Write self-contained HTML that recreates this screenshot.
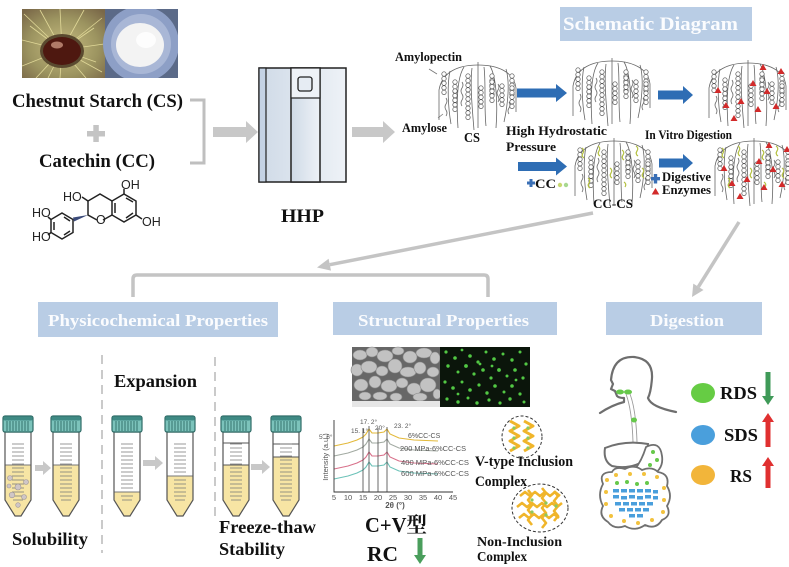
<!DOCTYPE html>
<html><head><meta charset="utf-8">
<style>
html,body{margin:0;padding:0;background:#fff;}
svg{display:block;}
.t{font-family:"Liberation Serif","Noto Serif CJK SC",serif;font-weight:bold;fill:#111;}
.h{font-family:"Liberation Serif",serif;font-weight:bold;fill:#fbfcfe;}
.s{font-family:"Liberation Sans",sans-serif;fill:#555;}
.c{font-family:"Liberation Sans",sans-serif;fill:#222;font-size:12.5px;}
</style></head><body>
<svg width="789" height="567" viewBox="0 0 789 567" xmlns="http://www.w3.org/2000/svg" xmlns:xlink="http://www.w3.org/1999/xlink">
<defs>
 <g id="h5" fill="#fff" stroke="#555" stroke-width="0.7">
  <circle cx="0" cy="0" r="2.2"/><circle cx="0" cy="4.6" r="2.2"/><circle cx="0" cy="9.2" r="2.2"/><circle cx="0" cy="13.8" r="2.2"/><circle cx="0" cy="18.4" r="2.2"/>
 </g>
 <g id="st">
  <g fill="none" stroke="#666" stroke-width="0.8">
   <path d="M42,0 L42,66"/>
   <path d="M42,3 C22,3 6,10 3,28 L3,58"/>
   <path d="M42,3 C62,3 78,10 80,26 L80,50"/>
   <path d="M28,5 C22,14 20,35 22,66"/>
   <path d="M54,4 C60,14 62,40 60,66"/>
   <path d="M14,9 C11,22 12,45 15,62"/>
   <path d="M70,7 C74,20 72,42 68,60"/>
   <path d="M36,6 C34,22 36,44 38,68"/>
   <path d="M48,5 C50,20 48,46 50,64"/>
   <path d="M26,20 q2,3 0,6 q-2,3 0,6 q2,3 0,6 q-2,3 0,6"/>
   <path d="M62,22 q2,3 0,6 q-2,3 0,6 q2,3 0,6"/>
   <path d="M10,36 q2,3 0,6 q-2,3 0,6 q2,3 0,6"/>
   <path d="M73,40 q2,3 0,6 q-2,3 0,6"/>
  </g>
  <use xlink:href="#h5" x="8" y="12"/>
  <use xlink:href="#h5" x="19" y="20"/><use xlink:href="#h5" x="19" y="29"/>
  <use xlink:href="#h5" x="32" y="14"/><use xlink:href="#h5" x="32" y="37"/>
  <use xlink:href="#h5" x="45" y="26"/>
  <use xlink:href="#h5" x="56" y="14"/><use xlink:href="#h5" x="56" y="20"/>
  <use xlink:href="#h5" x="66" y="24"/>
  <use xlink:href="#h5" x="76" y="14"/><use xlink:href="#h5" x="76" y="26"/>
 </g>
 <g id="tri" fill="#d22a2a">
  <path d="M12,27 l3.5,6 h-7z M20,42 l3.5,6 h-7z M35,38 l3.5,6 h-7z M47,20 l3.5,6 h-7z M52,46 l3.5,6 h-7z M61,28 l3.5,6 h-7z M70,43 l3.5,6 h-7z M57,4 l3.5,6 h-7z M28,55 l3.5,6 h-7z M75,8 l3.5,6 h-7z"/>
 </g>
 <g id="yg" fill="none" stroke="#b4c040" stroke-width="1.2">
  <path d="M10,10 q3,2 1,5 q-2,3 1,5"/><path d="M26,8 q3,2 1,5 q-2,3 1,5"/><path d="M50,12 q3,2 1,5 q-2,3 1,5"/><path d="M64,8 q3,2 1,5 q-2,3 1,5"/><path d="M38,30 q3,2 1,5 q-2,3 1,5"/><path d="M70,30 q3,2 1,5 q-2,3 1,5"/><path d="M16,40 q3,2 1,5 q-2,3 1,5"/><path d="M52,44 q3,2 1,5"/>
 </g>
 <g id="tcap">
  <rect x="0" y="0" width="30" height="16" rx="2" fill="#7cc3bb" stroke="#2e6b66" stroke-width="1.2"/>
  <rect x="0.5" y="0.5" width="29" height="4" rx="1.5" fill="#3f8a84"/>
  <path d="M4,5V15M7,5V15M10,5V15M13,5V15M16,5V15M19,5V15M22,5V15M25,5V15" stroke="#2e6b66" stroke-width="0.9"/>
 </g>
 <path id="tbody" d="M2,16 L28,16 L28,84 L18,100 L12,100 L2,84 Z"/>
 <path id="tgrad" d="M9,28h12M9,32h12M9,36h12M9,40h12M9,44h12M9,48h12M9,52h12M9,56h12M9,60h12M9,64h12M9,68h12M9,72h12M9,76h12M9,80h12M10,84h10"/>
 <path id="xrd" fill="none" stroke-width="1.1" d="M334,0 L348,-3 L357,-6 L363,-9 L366,-12 L369,-17 L372,-13 L378,-13 L384,-14 L387,-17 L390,-12 L399,-8 L414,-6 L438,-5"/>
 <linearGradient id="pan" x1="0" x2="1" y1="0" y2="0"><stop offset="0" stop-color="#cfdae7"/><stop offset="1" stop-color="#eef2f7"/></linearGradient>
 <radialGradient id="husk" cx="0.5" cy="0.55" r="0.7"><stop offset="0" stop-color="#c6bb80"/><stop offset="0.6" stop-color="#9c9460"/><stop offset="1" stop-color="#7a6848"/></radialGradient>
 <clipPath id="ph"><rect x="22" y="9" width="156" height="69"/></clipPath>
</defs>

<rect width="789" height="567" fill="#fff"/>

<!-- photo -->
<g clip-path="url(#ph)">
 <rect x="22" y="9" width="83" height="69" fill="url(#husk)"/>
 <g stroke="#e0d898" stroke-width="0.8">
  <path d="M62,50 L24,14 M62,50 L40,10 M62,50 L60,9 M62,50 L84,10 M62,50 L102,18 M62,50 L104,44 M62,50 L102,72 M62,50 L86,78 M62,50 L60,78 M62,50 L36,78 M62,50 L22,66 M62,50 L22,40 M62,50 L30,26 M62,50 L94,28 M62,50 L96,62 M62,50 L48,78"/>
 </g>
 <ellipse cx="62" cy="51" rx="22" ry="17" fill="#5a4a30"/>
 <ellipse cx="62" cy="51" rx="19" ry="14" fill="#4e1810"/>
 <ellipse cx="57" cy="45" rx="6" ry="3.5" fill="#b07a68"/>
 <rect x="105" y="9" width="73" height="69" fill="#5b6a88"/>
 <circle cx="141" cy="44" r="38" fill="#8d9fc6"/>
 <circle cx="141" cy="44" r="30" fill="#a9b7d6"/>
 <ellipse cx="140" cy="45" rx="24" ry="22" fill="#f3f3f3"/>
 <ellipse cx="146" cy="40" rx="10" ry="8" fill="#fdfdfd"/>
</g>

<!-- left texts -->
<text class="t" x="12" y="107" font-size="18.5" textLength="171" lengthAdjust="spacingAndGlyphs">Chestnut Starch (CS)</text>
<path d="M87,131h18v5.5h-18z M93.3,125h5.5v17h-5.5z" fill="#c4c4c4"/>
<text class="t" x="39" y="167" font-size="18.5" textLength="116" lengthAdjust="spacingAndGlyphs">Catechin (CC)</text>
<path d="M190,100 H204 V163 H190" fill="none" stroke="#bfbfbf" stroke-width="3"/>
<path d="M213,127 H246 V121 L258,132 L246,143 V137 H213 Z" fill="#c8c8c8"/>

<!-- catechin -->
<g fill="none" stroke="#222" stroke-width="1.5">
 <path d="M124,194 L136,201 L136,215 L124,222 L112,215 L112,201 Z"/>
 <path d="M126,198 L133,202 M133,213 L126,218 M115,203 L115,213"/>
 <path d="M112,215 L103,220 M97,220 L88,215 L88,201 L100,194 L112,201"/>
 <path d="M124,194 L124,189 M136,215 L142,219 M88,201 L82,197"/>
 <path d="M62,213 L73,219.5 L73,232.5 L62,239 L51,232.5 L51,219.5 Z"/>
 <path d="M64,217 L70,221 M70,231 L64,235 M54,222 L54,230"/>
 <path d="M51,219.5 L48,217 M51,232.5 L48,235"/>
</g>
<path d="M88,215 L73,217.5 L74,221.5 Z" fill="#3b4a7a"/>
<text class="c" x="121" y="189">OH</text>
<text class="c" x="142" y="226">OH</text>
<text class="c" x="63" y="201">HO</text>
<text class="c" x="96" y="224">O</text>
<text class="c" x="32" y="217">HO</text>
<text class="c" x="32" y="241">HO</text>

<!-- HHP machine -->
<rect x="259" y="68" width="87" height="114" fill="url(#pan)" stroke="#222" stroke-width="1.5"/>
<rect x="259" y="68" width="7" height="114" fill="#c4d2e4" stroke="#222" stroke-width="1.2"/>
<rect x="291" y="68" width="29" height="114" fill="url(#pan)" stroke="#222" stroke-width="1.5"/>
<rect x="291" y="68" width="29" height="30" fill="#eef2f7" stroke="#222" stroke-width="1.2"/>
<rect x="298" y="77" width="14" height="14" rx="2.5" fill="#e6ecf3" stroke="#222" stroke-width="1.3"/>
<text class="t" x="281" y="222" font-size="18.5" textLength="43" lengthAdjust="spacingAndGlyphs">HHP</text>
<path d="M352,127 H383 V121 L395,132 L383,143 V137 H352 Z" fill="#c8c8c8"/>

<!-- schematic -->
<rect x="560" y="7" width="192" height="34" fill="#b9cde5"/>
<text class="h" x="563" y="30" font-size="19" textLength="175" lengthAdjust="spacingAndGlyphs">Schematic Diagram</text>
<text class="t" x="395" y="61" font-size="12.5" textLength="67" lengthAdjust="spacingAndGlyphs">Amylopectin</text>
<path d="M429,69 L437,74 M438,118 L443,114" stroke="#777" stroke-width="0.8"/>
<text class="t" x="402" y="132" font-size="12.5" textLength="45" lengthAdjust="spacingAndGlyphs">Amylose</text>
<text class="t" x="464" y="142" font-size="13.5" textLength="16" lengthAdjust="spacingAndGlyphs">CS</text>
<use xlink:href="#st" x="436" y="62"/>
<use xlink:href="#st" x="570" y="58"/>
<use xlink:href="#st" x="706" y="60"/><use xlink:href="#tri" x="706" y="60"/>
<use xlink:href="#st" x="572" y="138"/><use xlink:href="#yg" x="572" y="138"/>
<use xlink:href="#st" x="712" y="138"/><use xlink:href="#yg" x="712" y="138"/><use xlink:href="#tri" x="712" y="138"/>
<g fill="#2e6db4">
 <path d="M517,88.5 H556 V84 L567,93 L556,102 V97.5 H517 Z"/>
 <path d="M658,90.5 H683 V86 L693,95 L683,104 V99.5 H658 Z"/>
 <path d="M518,162 H556 V157.5 L567,166.5 L556,175.5 V171 H518 Z"/>
 <path d="M659,158.5 H683 V154 L693,163 L683,172 V167.5 H659 Z"/>
</g>
<text class="t" x="506" y="135" font-size="13" textLength="101" lengthAdjust="spacingAndGlyphs">High Hydrostatic</text>
<text class="t" x="506" y="151" font-size="13" textLength="50" lengthAdjust="spacingAndGlyphs">Pressure</text>
<text class="t" x="645" y="139" font-size="13" textLength="87" lengthAdjust="spacingAndGlyphs">In Vitro Digestion</text>
<path d="M527,181.5h8v3h-8z M529.5,179h3v8h-3z" fill="#3a6fb5"/>
<text class="t" x="535" y="188" font-size="13" textLength="21" lengthAdjust="spacingAndGlyphs">CC</text>
<circle cx="560" cy="185" r="2.2" fill="#c8d870"/><circle cx="566" cy="185" r="2.2" fill="#a8d890"/>
<text class="t" x="593" y="208" font-size="13" textLength="40" lengthAdjust="spacingAndGlyphs">CC-CS</text>
<path d="M651,177h9v3.4h-9z M653.8,174h3.4v9.5h-3.4z" fill="#3a6fb5"/>
<text class="t" x="662" y="181" font-size="13" textLength="49" lengthAdjust="spacingAndGlyphs">Digestive</text>
<path d="M655.5,188 l3.8,6.5 h-7.6z" fill="#d22a2a"/>
<text class="t" x="662" y="194" font-size="13" textLength="49" lengthAdjust="spacingAndGlyphs">Enzymes</text>

<!-- connectors -->
<g stroke="#c4c4c4" stroke-width="3.5" fill="none">
 <path d="M593,213 L329.8,264.7"/>
 <path d="M739,222 L698.4,286.8"/>
 <path d="M133,297 V279 Q133,275 137,275 H484 Q488,275 488,279 V297"/>
</g>
<polygon points="317,267.5 331,270.6 328.6,258.8" fill="#c4c4c4"/>
<polygon points="692,297 703.5,290 693.3,283.6" fill="#c4c4c4"/>

<!-- headers -->
<rect x="38" y="302" width="240" height="35" fill="#b9cde5"/>
<text class="h" x="48" y="326" font-size="16.5" textLength="220" lengthAdjust="spacingAndGlyphs">Physicochemical Properties</text>
<rect x="333" y="302" width="224" height="33" fill="#b9cde5"/>
<text class="h" x="358" y="326" font-size="16.5" textLength="171" lengthAdjust="spacingAndGlyphs">Structural Properties</text>
<rect x="606" y="302" width="156" height="33" fill="#b9cde5"/>
<text class="h" x="650" y="326" font-size="16.5" textLength="74" lengthAdjust="spacingAndGlyphs">Digestion</text>

<!-- physicochemical -->
<path d="M102,355 V553 M215,357 V522" stroke="#cacaca" stroke-width="2" stroke-dasharray="9 6"/>
<text class="t" x="114" y="387" font-size="17.5" textLength="83" lengthAdjust="spacingAndGlyphs">Expansion</text>
<g transform="translate(3,416)">
 <use xlink:href="#tbody" fill="#fff"/>
 <path d="M2,49 L28,49 L28,84 L18,100 L12,100 L2,84 Z" fill="#f7e5a4"/>
 <path d="M2,49H28" stroke="#777" stroke-width="1"/>
 <use xlink:href="#tgrad" stroke="#777" stroke-width="0.8"/>
 <g fill="#cfc6c6" stroke="#a09898" stroke-width="0.6"><circle cx="7" cy="62" r="2.5"/><circle cx="15" cy="71" r="3"/><circle cx="23" cy="66" r="2.5"/><circle cx="9" cy="79" r="2.8"/><circle cx="21" cy="81" r="2.5"/><circle cx="15" cy="89" r="2.3"/><circle cx="6" cy="70" r="2"/></g>
 <use xlink:href="#tbody" fill="none" stroke="#555" stroke-width="1.2"/>
 <use xlink:href="#tcap"/>
</g>
<g transform="translate(51,416)">
 <use xlink:href="#tbody" fill="#fff"/>
 <path d="M2,49 L28,49 L28,84 L18,100 L12,100 L2,84 Z" fill="#f7e5a4"/>
 <path d="M2,49H28" stroke="#777" stroke-width="1"/>
 <use xlink:href="#tgrad" stroke="#777" stroke-width="0.8"/>
 <use xlink:href="#tbody" fill="none" stroke="#555" stroke-width="1.2"/>
 <use xlink:href="#tcap"/>
</g>
<g transform="translate(112,416)">
 <use xlink:href="#tbody" fill="#fff"/>
 <path d="M2,76 L28,76 L28,84 L18,100 L12,100 L2,84 Z" fill="#f7e5a4"/>
 <path d="M2,76H28" stroke="#777" stroke-width="1"/>
 <use xlink:href="#tgrad" stroke="#777" stroke-width="0.8"/>
 <use xlink:href="#tbody" fill="none" stroke="#555" stroke-width="1.2"/>
 <use xlink:href="#tcap"/>
</g>
<g transform="translate(165,416)">
 <use xlink:href="#tbody" fill="#fff"/>
 <path d="M2,60 L28,60 L28,84 L18,100 L12,100 L2,84 Z" fill="#f7e5a4"/>
 <path d="M2,60H28" stroke="#777" stroke-width="1"/>
 <use xlink:href="#tgrad" stroke="#777" stroke-width="0.8"/>
 <use xlink:href="#tbody" fill="none" stroke="#555" stroke-width="1.2"/>
 <use xlink:href="#tcap"/>
</g>
<g transform="translate(221,416)">
 <use xlink:href="#tbody" fill="#fff"/>
 <path d="M2,49 L28,49 L28,84 L18,100 L12,100 L2,84 Z" fill="#f7e5a4"/>
 <rect x="2" y="27" width="26" height="22" fill="#fff" stroke="#555" stroke-width="1"/>
 <use xlink:href="#tgrad" stroke="#777" stroke-width="0.8"/>
 <use xlink:href="#tbody" fill="none" stroke="#555" stroke-width="1.2"/>
 <use xlink:href="#tcap"/>
</g>
<g transform="translate(271,416)">
 <use xlink:href="#tbody" fill="#fff"/>
 <path d="M2,41 L28,41 L28,84 L18,100 L12,100 L2,84 Z" fill="#f7e5a4"/>
 <rect x="2" y="28" width="26" height="13" fill="#fff" stroke="#555" stroke-width="1"/>
 <use xlink:href="#tgrad" stroke="#777" stroke-width="0.8"/>
 <use xlink:href="#tbody" fill="none" stroke="#555" stroke-width="1.2"/>
 <use xlink:href="#tcap"/>
</g>
<g fill="#c8c8c8">
 <path d="M35,465 H43 V461 L51,468 L43,475 V471 H35 Z"/>
 <path d="M143,460 H155 V456 L163,463 L155,470 V466 H143 Z"/>
 <path d="M251,464 H262 V460 L270,467 L262,474 V470 H251 Z"/>
</g>
<text class="t" x="12" y="545" font-size="17.5" textLength="76" lengthAdjust="spacingAndGlyphs">Solubility</text>
<text class="t" x="219" y="533" font-size="18" textLength="97" lengthAdjust="spacingAndGlyphs">Freeze-thaw</text>
<text class="t" x="219" y="555" font-size="18" textLength="66" lengthAdjust="spacingAndGlyphs">Stability</text>

<!-- structural images -->
<rect x="352" y="347" width="88" height="60" fill="#676767"/>
<g fill="#c2c2c2" stroke="#8a8a8a" stroke-width="0.6">
 <ellipse cx="360" cy="355" rx="7" ry="5"/><ellipse cx="372" cy="352" rx="6" ry="5"/><ellipse cx="385" cy="356" rx="8" ry="6"/><ellipse cx="398" cy="351" rx="6" ry="4"/><ellipse cx="410" cy="357" rx="7" ry="6"/><ellipse cx="424" cy="353" rx="8" ry="5"/><ellipse cx="435" cy="358" rx="5" ry="6"/>
 <ellipse cx="357" cy="370" rx="6" ry="6"/><ellipse cx="369" cy="367" rx="8" ry="6"/><ellipse cx="382" cy="371" rx="6" ry="5"/><ellipse cx="395" cy="366" rx="7" ry="7"/><ellipse cx="408" cy="372" rx="8" ry="5"/><ellipse cx="420" cy="368" rx="6" ry="6"/><ellipse cx="433" cy="372" rx="6" ry="5"/>
 <ellipse cx="361" cy="385" rx="7" ry="6"/><ellipse cx="375" cy="382" rx="6" ry="6"/><ellipse cx="389" cy="386" rx="8" ry="6"/><ellipse cx="402" cy="383" rx="6" ry="5"/><ellipse cx="414" cy="389" rx="7" ry="6"/><ellipse cx="428" cy="385" rx="8" ry="7"/>
 <ellipse cx="365" cy="396" rx="6" ry="4"/><ellipse cx="380" cy="396" rx="7" ry="4"/><ellipse cx="396" cy="397" rx="6" ry="4"/><ellipse cx="420" cy="397" rx="7" ry="4"/><ellipse cx="437" cy="394" rx="4" ry="5"/>
</g>
<rect x="352" y="401" width="88" height="6" fill="#e6e6e6"/>
<rect x="440" y="347" width="90" height="60" fill="#0b150b"/>
<g fill="#52c844">
 <circle cx="446" cy="352" r="1.6"/><circle cx="455" cy="358" r="1.8"/><circle cx="462" cy="350" r="1.4"/><circle cx="470" cy="356" r="1.8"/><circle cx="478" cy="362" r="1.6"/><circle cx="486" cy="352" r="1.5"/><circle cx="494" cy="359" r="1.8"/><circle cx="503" cy="354" r="1.5"/><circle cx="512" cy="360" r="1.7"/><circle cx="520" cy="352" r="1.5"/><circle cx="526" cy="364" r="1.6"/>
 <circle cx="448" cy="366" r="1.7"/><circle cx="458" cy="372" r="1.5"/><circle cx="466" cy="366" r="1.9"/><circle cx="474" cy="374" r="1.6"/><circle cx="483" cy="370" r="1.8"/><circle cx="491" cy="378" r="1.6"/><circle cx="499" cy="370" r="1.9"/><circle cx="507" cy="376" r="1.5"/><circle cx="515" cy="370" r="1.8"/><circle cx="523" cy="378" r="1.6"/>
 <circle cx="445" cy="382" r="1.6"/><circle cx="453" cy="388" r="1.8"/><circle cx="462" cy="382" r="1.5"/><circle cx="470" cy="390" r="1.8"/><circle cx="479" cy="385" r="1.6"/><circle cx="487" cy="393" r="1.7"/><circle cx="495" cy="386" r="1.8"/><circle cx="504" cy="392" r="1.5"/><circle cx="512" cy="386" r="1.8"/><circle cx="520" cy="394" r="1.6"/>
 <circle cx="447" cy="399" r="1.6"/><circle cx="458" cy="402" r="1.7"/><circle cx="468" cy="398" r="1.5"/><circle cx="477" cy="403" r="1.7"/><circle cx="489" cy="400" r="1.6"/><circle cx="500" cy="403" r="1.6"/><circle cx="510" cy="399" r="1.7"/><circle cx="524" cy="402" r="1.5"/>
 <circle cx="480" cy="364" r="1.4"/><circle cx="492" cy="366" r="1.4"/><circle cx="458" cy="394" r="1.4"/><circle cx="516" cy="380" r="1.4"/>
</g>

<!-- XRD -->
<g>
 <use xlink:href="#xrd" y="446" stroke="#e3b93a"/>
 <use xlink:href="#xrd" y="456" stroke="#a2aaa2"/>
 <use xlink:href="#xrd" y="469" stroke="#d8708a"/>
 <use xlink:href="#xrd" y="479" stroke="#6cc2b8"/>
 <path d="M363,428V492 M369,426V492 M378,428V492 M387,427V492" stroke="#444" stroke-width="0.8"/>
 <path d="M334,420V492H453" fill="none" stroke="#333" stroke-width="0.9"/>
 <g class="s" font-size="7">
  <text x="408" y="438">6%CC-CS</text>
  <text x="400" y="451" textLength="66" lengthAdjust="spacingAndGlyphs">200 MPa-6%CC-CS</text>
  <text x="401" y="465" textLength="68" lengthAdjust="spacingAndGlyphs">400 MPa-6%CC-CS</text>
  <text x="401" y="476" textLength="68" lengthAdjust="spacingAndGlyphs">600 MPa-6%CC-CS</text>
 </g>
 <g class="s" font-size="6.5" fill="#444">
  <text x="319" y="439">5. 6°</text><text x="351" y="433">15. 1°</text><text x="360" y="424">17. 2°</text><text x="375" y="430">20°</text><text x="394" y="428">23. 2°</text>
 </g>
 <g class="s" font-size="7.5" fill="#333" text-anchor="middle">
  <text x="334" y="500">5</text><text x="348" y="500">10</text><text x="363" y="500">15</text><text x="378" y="500">20</text><text x="393" y="500">25</text><text x="408" y="500">30</text><text x="423" y="500">35</text><text x="438" y="500">40</text><text x="453" y="500">45</text>
  <text x="395" y="508" font-weight="bold" font-size="8">2θ (°)</text>
  <text transform="translate(328,457) rotate(-90)" font-size="7.5">Intensity (a.u.)</text>
 </g>
</g>
<text class="t" x="365" y="532" font-size="21" textLength="62" lengthAdjust="spacingAndGlyphs">C+V型</text>
<text class="t" x="367" y="561" font-size="21" textLength="31" lengthAdjust="spacingAndGlyphs">RC</text>
<path d="M417.5,538 H422.5 V555 H426 L420,564 L414,555 H417.5 Z" fill="#4a9e5c"/>

<!-- complexes -->
<ellipse cx="522" cy="437" rx="20" ry="21" fill="#fff" stroke="#333" stroke-width="1" stroke-dasharray="3 2"/>
<g fill="none" stroke="#f0b52a" stroke-width="3" stroke-linejoin="round">
 <path d="M510,421 l9,5 l-9,5 l9,5 l-9,5 l9,5 l-9,5"/>
 <path d="M524,421 l9,5 l-9,5 l9,5 l-9,5 l9,5 l-9,5"/>
</g>
<g fill="#8cc860"><circle cx="514" cy="428" r="1.6"/><circle cx="514" cy="438" r="1.6"/><circle cx="514" cy="448" r="1.6"/><circle cx="528" cy="428" r="1.6"/><circle cx="528" cy="438" r="1.6"/><circle cx="528" cy="448" r="1.6"/></g>
<text class="t" x="475" y="466" font-size="15" textLength="98" lengthAdjust="spacingAndGlyphs">V-type Inclusion</text>
<text class="t" x="475" y="486" font-size="15" textLength="52" lengthAdjust="spacingAndGlyphs">Complex</text>
<ellipse cx="540" cy="508" rx="28" ry="24" fill="#fff" stroke="#333" stroke-width="1" stroke-dasharray="3 2"/>
<g fill="none" stroke="#f0b52a" stroke-width="2.6" stroke-linejoin="round">
 <path d="M520,496 l5,-4 l5,4 l5,-4 l5,4 l5,-4 l5,4 l5,-4 l5,4"/>
 <path d="M517,507 l5,-4 l5,4 l5,-4 l5,4 l5,-4 l5,4 l5,-4 l5,4 l5,-4"/>
 <path d="M519,518 l5,-4 l5,4 l5,-4 l5,4 l5,-4 l5,4 l5,-4 l5,4"/>
 <path d="M528,490 l4,5 l-4,5 l4,5 l-4,5 l4,5 l-4,5 l4,5"/>
 <path d="M542,488 l4,5 l-4,5 l4,5 l-4,5 l4,5 l-4,5 l4,5 l-4,5"/>
 <path d="M554,491 l4,5 l-4,5 l4,5 l-4,5 l4,5 l-4,5"/>
</g>
<g fill="#8cc860"><circle cx="532" cy="500" r="1.6"/><circle cx="546" cy="503" r="1.6"/><circle cx="532" cy="512" r="1.6"/><circle cx="546" cy="515" r="1.6"/><circle cx="556" cy="506" r="1.6"/></g>
<text class="t" x="477" y="546" font-size="14" textLength="85" lengthAdjust="spacingAndGlyphs">Non-Inclusion</text>
<text class="t" x="477" y="561" font-size="14" textLength="50" lengthAdjust="spacingAndGlyphs">Complex</text>

<!-- digestion figure -->
<g fill="none" stroke="#6e6e6e" stroke-width="2.2" stroke-linecap="round" stroke-linejoin="round">
 <path d="M600,413 Q612,405 624,402 L624,398 Q619,398 617,396 L615,391 L611,389 L613,384 L611,380 Q613,356 634,357 Q653,359 652,378 Q651,392 648,398 Q651,407 676,412"/>
</g>
<path d="M626,394 Q632,410 633,442 M630,394 Q636,410 637,442" fill="none" stroke="#9a9a9a" stroke-width="0.9"/>
<g fill="#66c84a"><ellipse cx="620" cy="392" rx="4" ry="2.5"/><ellipse cx="628" cy="392" rx="4" ry="2.5"/><ellipse cx="634" cy="420" rx="3" ry="2.5"/></g>
<path d="M605,448 Q625,440 648,444 L646,460 Q630,470 612,466 Q603,461 605,448 Z" fill="#fff" stroke="#707070" stroke-width="2"/>
<path d="M646,447 Q660,440 662,456 Q664,470 650,476 Q636,480 630,474 Q640,466 646,447 Z" fill="#fff" stroke="#707070" stroke-width="1.8"/>
<g fill="#66c84a"><circle cx="653" cy="452" r="2"/><circle cx="657" cy="460" r="2"/><circle cx="650" cy="465" r="2"/><circle cx="645" cy="471" r="2"/><circle cx="638" cy="474" r="2"/></g>
<path d="M603,484 Q598,472 612,472 Q615,466 625,469 Q634,464 642,470 Q652,466 658,472 Q670,474 667,486 Q673,496 667,506 Q672,516 662,520 Q656,530 645,525 Q635,532 625,526 Q614,530 608,522 Q598,516 603,506 Q597,495 603,484 Z" fill="#fff" stroke="#707070" stroke-width="1.8"/>
<g fill="#f2c23e">
 <circle cx="607" cy="480" r="2"/><circle cx="616" cy="475" r="2"/><circle cx="630" cy="474" r="2"/><circle cx="644" cy="474" r="2"/><circle cx="657" cy="477" r="2"/><circle cx="664" cy="488" r="2"/><circle cx="664" cy="500" r="2"/><circle cx="663" cy="512" r="2"/><circle cx="652" cy="520" r="2"/><circle cx="638" cy="523" r="2"/><circle cx="624" cy="521" r="2"/><circle cx="611" cy="516" r="2"/><circle cx="606" cy="504" r="2"/><circle cx="606" cy="492" r="2"/>
</g>
<g fill="#66c84a"><circle cx="617" cy="483" r="2"/><circle cx="627" cy="482" r="2"/><circle cx="637" cy="484" r="2"/><circle cx="647" cy="483" r="2"/></g>
<g fill="#4a9fdc">
 <rect x="613" y="489" width="6" height="3.5"/><rect x="621" y="489" width="6" height="3.5"/><rect x="629" y="489" width="6" height="3.5"/><rect x="637" y="489" width="6" height="3.5"/><rect x="645" y="489" width="6" height="3.5"/><rect x="653" y="490" width="5" height="3.5"/>
 <rect x="613" y="495" width="6" height="3.5"/><rect x="621" y="496" width="6" height="3.5"/><rect x="629" y="495" width="6" height="3.5"/><rect x="637" y="496" width="6" height="3.5"/><rect x="645" y="495" width="6" height="3.5"/><rect x="653" y="496" width="5" height="3.5"/>
 <rect x="615" y="502" width="6" height="3.5"/><rect x="623" y="502" width="6" height="3.5"/><rect x="631" y="502" width="6" height="3.5"/><rect x="639" y="502" width="6" height="3.5"/><rect x="647" y="502" width="6" height="3.5"/>
 <rect x="619" y="508" width="6" height="3.5"/><rect x="627" y="508" width="6" height="3.5"/><rect x="635" y="508" width="6" height="3.5"/><rect x="643" y="508" width="6" height="3.5"/>
 <rect x="629" y="514" width="6" height="3.5"/><rect x="637" y="514" width="6" height="3.5"/>
</g>

<ellipse cx="703" cy="393" rx="12" ry="10" fill="#66cc44"/>
<ellipse cx="703" cy="435" rx="12" ry="10" fill="#4a9fdc"/>
<ellipse cx="703" cy="475" rx="12" ry="10" fill="#f2b53a"/>
<text class="t" x="720" y="399" font-size="18" textLength="37" lengthAdjust="spacingAndGlyphs">RDS</text>
<text class="t" x="724" y="441" font-size="18" textLength="34" lengthAdjust="spacingAndGlyphs">SDS</text>
<text class="t" x="730" y="482" font-size="18" textLength="22" lengthAdjust="spacingAndGlyphs">RS</text>
<path d="M765.5,372 H770.5 V396 H774 L768,405 L762,396 H765.5 Z" fill="#3f9a58"/>
<path d="M765.5,447 H770.5 V422 H774 L768,413 L762,422 H765.5 Z" fill="#e03030"/>
<path d="M765.5,488 H770.5 V466 H774 L768,457 L762,466 H765.5 Z" fill="#e03030"/>
</svg>
</body></html>
